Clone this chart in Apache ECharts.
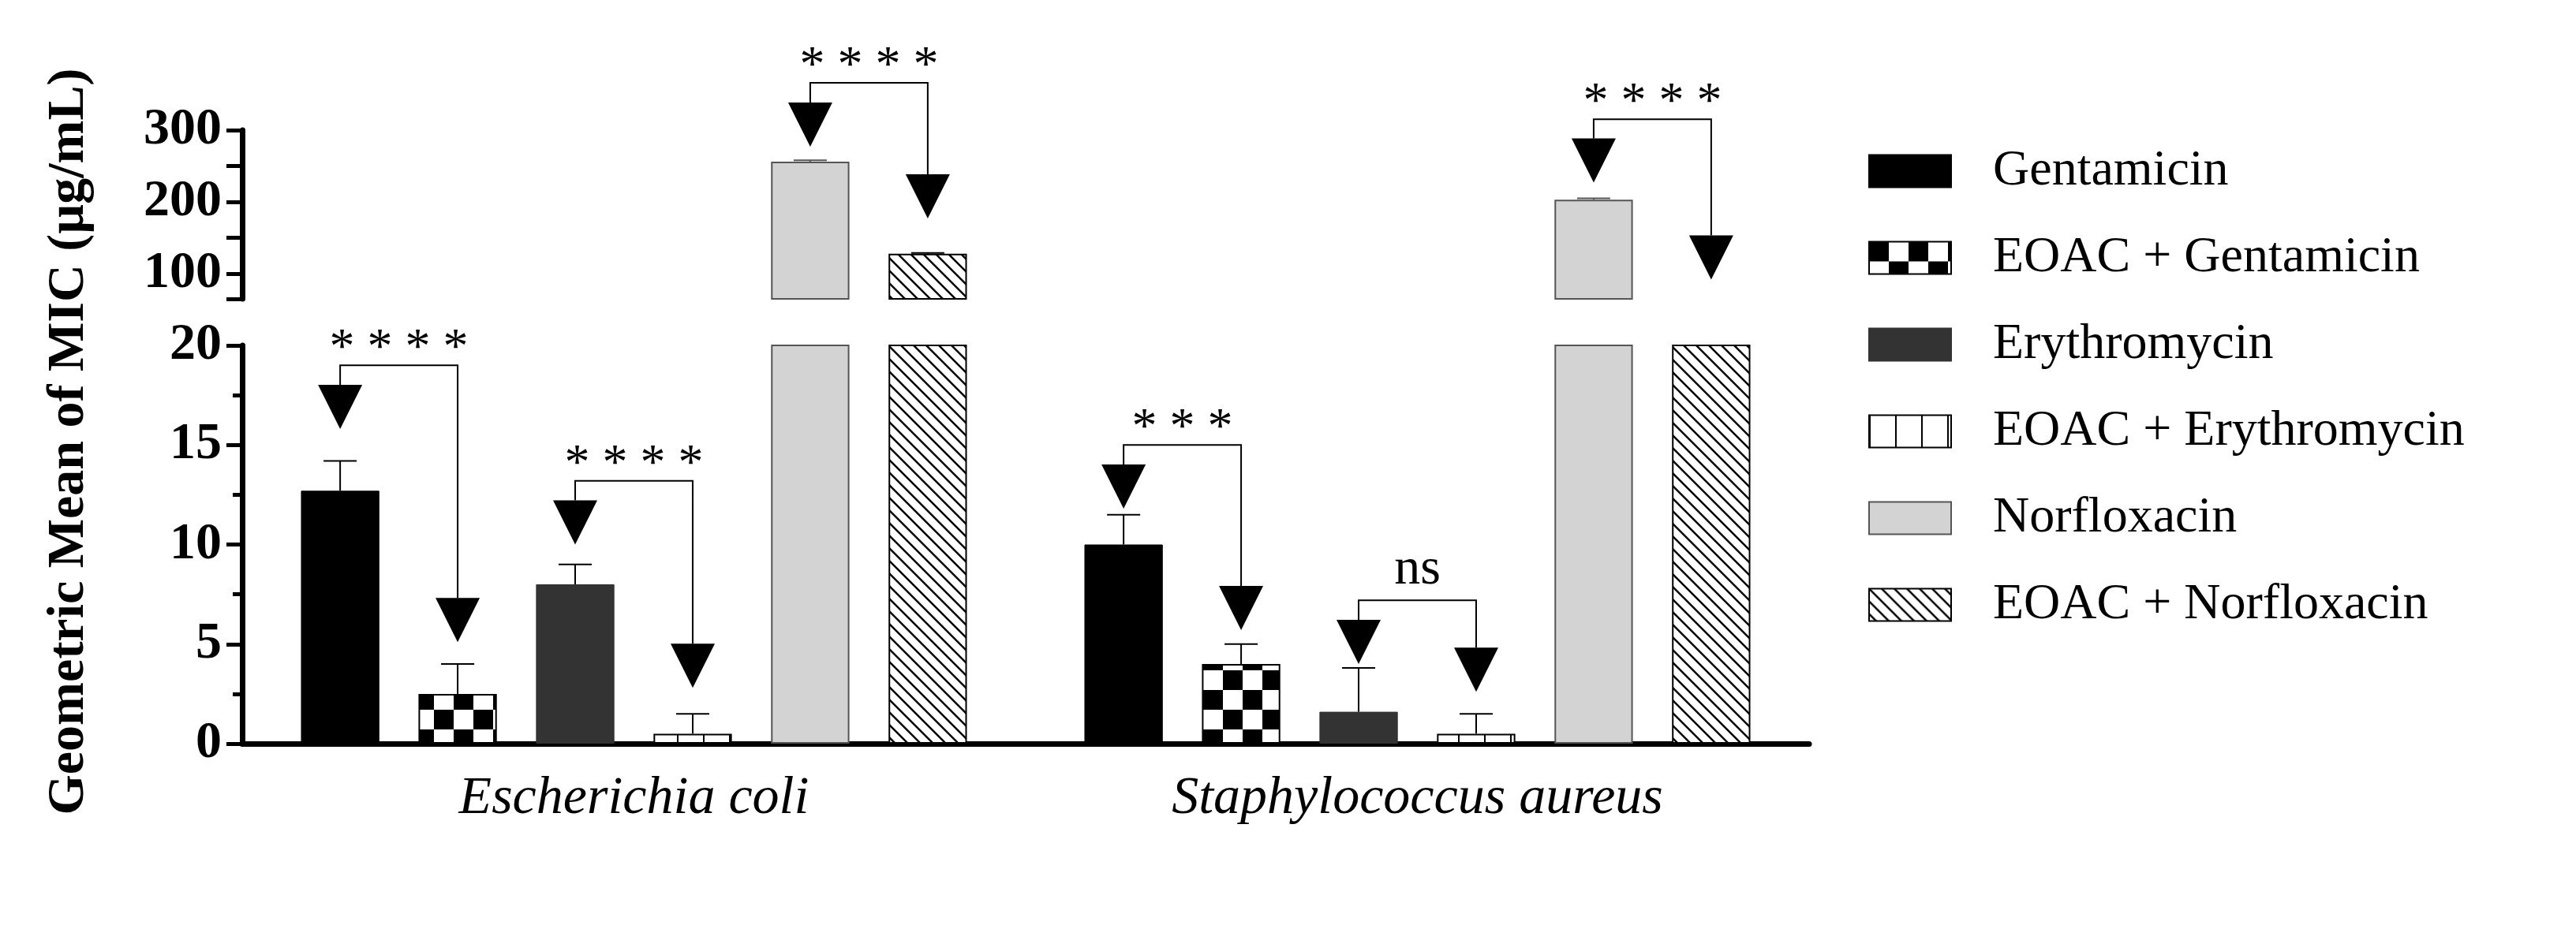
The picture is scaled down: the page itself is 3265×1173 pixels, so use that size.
<!DOCTYPE html>
<html><head><meta charset="utf-8">
<script src="https://cdn.jsdelivr.net/npm/echarts@6/dist/echarts.min.js"></script>
<style>html,body{margin:0;padding:0;background:#fff}#c{width:3265px;height:1173px}</style>
</head><body><div id="c"></div>
<script>
const categories = ['Escherichia coli', 'Staphylococcus aureus'];
const seriesNames = ['Gentamicin','EOAC + Gentamicin','Erythromycin','EOAC + Erythromycin','Norfloxacin','EOAC + Norfloxacin'];
const gentamicin = [12.7, 10.0];
const eoacGentamicin = [2.5, 4.0];
const erythromycin = [8.0, 1.6];
const eoacErythromycin = [0.5, 0.5];
const norfloxacin = [256, 203];
const eoacNorfloxacin = [128, 64];
const sdGentamicin = [1.5, 1.5];
const sdEoacGentamicin = [1.5, 1.0];
const sdErythromycin = [1.0, 2.2];
const sdEoacErythromycin = [1.0, 1.0];
const sdNorfloxacin = [2, 2];
const sdEoacNorfloxacin = [1, 0];
const upperLabels = [100, 200, 300];
const upperTicks = [65, 100, 150, 200, 250, 300];
const sigCategory = [0, 0, 0, 1, 1, 1];
const sigLeft = [0, 2, 4, 0, 2, 4];
const sigRight = [1, 3, 5, 1, 3, 5];
const sigBracket = [19.0, 13.2, 366, 15.0, 7.2, 315];
const sigLeftTip = [15.8, 10.0, 277, 11.8, 4.0, 227];
const sigRightTip = [5.1, 2.8, 177, 5.7, 2.6, 92];
const sigLabel = ['****', '****', '****', '***', 'ns', '****'];
const sigPanel = [1, 1, 0, 1, 1, 0];

const values = [gentamicin, eoacGentamicin, erythromycin, eoacErythromycin, norfloxacin, eoacNorfloxacin];
const sds = [sdGentamicin, sdEoacGentamicin, sdErythromycin, sdEoacErythromycin, sdNorfloxacin, sdEoacNorfloxacin];

function mk(w, h, draw){const c=document.createElement('canvas');c.width=w;c.height=h;const x=c.getContext('2d');x.fillStyle='#fff';x.fillRect(0,0,w,h);draw(x);return c;}
const checker = mk(50,50,x=>{x.fillStyle='#000';x.fillRect(0,0,25,25);x.fillRect(25,25,25,25);});
const vlines = mk(33,10,x=>{x.fillStyle='#000';x.fillRect(0,0,2,10);});
const hatch = mk(16,16,x=>{x.strokeStyle='#000';x.lineWidth=2.5;x.beginPath();x.moveTo(-4,-4);x.lineTo(20,20);x.moveTo(-4,12);x.lineTo(4,20);x.moveTo(12,-4);x.lineTo(20,4);x.stroke();});
const styles = [
  {color:'#000', borderColor:'#000', borderWidth:1},
  {color:{image:checker, repeat:'repeat'}, borderColor:'#000', borderWidth:2},
  {color:'#333', borderColor:'#333', borderWidth:1},
  {color:{image:vlines, repeat:'repeat'}, borderColor:'#000', borderWidth:2},
  {color:'#d3d3d3', borderColor:'#555', borderWidth:2},
  {color:{image:hatch, repeat:'repeat'}, borderColor:'#000', borderWidth:2}
];
const FONT = 'Liberation Serif';
const series = [];
for (let g=0; g<2; g++){
  for (let k=0;k<6;k++){
    series.push({type:'bar', name:seriesNames[k], xAxisIndex:g, yAxisIndex:g, data:values[k],
      barWidth:'10%', barGap:'50%', itemStyle:styles[k], emphasis:{disabled:true}, z:2});
  }
}
function errData(g){
  const d=[];
  for(let k=0;k<6;k++) for(let c=0;c<2;c++){
    const v=values[k][c], t=v+sds[k][c];
    if(g===1 && t<=20) d.push([c,v,t,k]);
    if(g===0 && v>=65) d.push([c,v,t,k]);
  }
  return d;
}
function barX(api,c,k){const w=api.size([1,0])[0];return api.coord([c,0])[0]+(k-2.5)*w*0.15;}
for (let g=0; g<2; g++){
  series.push({type:'custom', xAxisIndex:g, yAxisIndex:g, data:errData(g), z:3, silent:true,
    renderItem:(p,api)=>{
      const c=api.value(0), k=api.value(3);
      const x=barX(api,c,k);
      const y1=api.coord([c,api.value(1)])[1], y2=api.coord([c,api.value(2)])[1];
      const col = k===4? '#555':'#000';
      return {type:'group',children:[
        {type:'line',shape:{x1:x,y1:y1,x2:x,y2:y2},style:{stroke:col,lineWidth:2}},
        {type:'line',shape:{x1:x-21,y1:y2,x2:x+21,y2:y2},style:{stroke:col,lineWidth:2}}]};
    }});
  const idx=[]; for(let i=0;i<sigLabel.length;i++) if(sigPanel[i]===g) idx.push([sigCategory[i], sigBracket[i], i]);
  series.push({type:'custom', xAxisIndex:g, yAxisIndex:g, data:idx, z:4, silent:true, clip:false,
    renderItem:(p,api)=>{
      const i=api.value(2), c=sigCategory[i];
      const xl=barX(api,c,sigLeft[i]), xr=barX(api,c,sigRight[i]);
      const yb=api.coord([c,sigBracket[i]])[1];
      const yl=api.coord([c,sigLeftTip[i]])[1], yr=api.coord([c,sigRightTip[i]])[1];
      const th=56, tw=28;
      const ns=sigLabel[i]==='ns';
      const lab=ns?'ns':sigLabel[i].split('').join(' ');
      return {type:'group',children:[
        {type:'polyline',shape:{points:[[xl,yl-th],[xl,yb],[xr,yb],[xr,yr-th]]},style:{stroke:'#000',lineWidth:2,fill:null}},
        {type:'polygon',shape:{points:[[xl-tw,yl-th],[xl+tw,yl-th],[xl,yl]]},style:{fill:'#000'}},
        {type:'polygon',shape:{points:[[xr-tw,yr-th],[xr+tw,yr-th],[xr,yr]]},style:{fill:'#000'}},
        {type:'text',x:(xl+xr)/2,y:yb+(ns?-6:12),style:{text:lab,fill:'#000',font:(ns?'66px ':'64px ')+FONT,align:'center',verticalAlign:'bottom'}}]};
    }});
}
const axisLine={lineStyle:{color:'#000',width:7}};
const option = {
  backgroundColor:'#fff', animation:false,
  grid:[{left:307,top:165,width:1986,height:214},{left:307,top:438,width:1986,height:505}],
  legend:{orient:'vertical',left:2363,top:180,itemWidth:104,itemHeight:41,itemGap:46,icon:'rect',
    data:seriesNames, textStyle:{fontFamily:FONT,fontSize:64,color:'#000',padding:[0,0,0,48]}, selectedMode:false},
  xAxis:[
    {type:'category',gridIndex:0,data:categories,show:false},
    {type:'category',gridIndex:1,data:categories,axisLine:axisLine,
      axisTick:{alignWithLabel:true,length:20,lineStyle:{width:6,color:'#000'}},
      axisLabel:{fontFamily:FONT,fontStyle:'italic',fontSize:68,color:'#000',margin:36}}
  ],
  yAxis:[
    {type:'value',gridIndex:0,min:65,max:300,axisLine:{show:true,lineStyle:{color:'#000',width:7}},splitLine:{show:false},
      axisTick:{show:true,customValues:upperTicks,length:20,lineStyle:{width:5,color:'#000'}},
      axisLabel:{customValues:upperLabels,fontFamily:FONT,fontWeight:'bold',fontSize:66,color:'#000',margin:26}},
    {type:'value',gridIndex:1,min:0,max:20,interval:5,axisLine:{show:true,lineStyle:{color:'#000',width:7}},splitLine:{show:false},
      axisTick:{show:true,length:20,lineStyle:{width:5,color:'#000'}},
      minorTick:{show:true,splitNumber:2,length:12,lineStyle:{width:5,color:'#000'}},
      axisLabel:{fontFamily:FONT,fontWeight:'bold',fontSize:66,color:'#000',margin:26}}
  ],
  graphic:[{type:'text',x:88,y:560,rotation:Math.PI/2,style:{text:'Geometric Mean of MIC (µg/mL)',font:'bold 66px '+FONT,fill:'#000',align:'center',verticalAlign:'middle'}}],
  series:series
};
echarts.init(document.getElementById('c')).setOption(option);
</script></body></html>
